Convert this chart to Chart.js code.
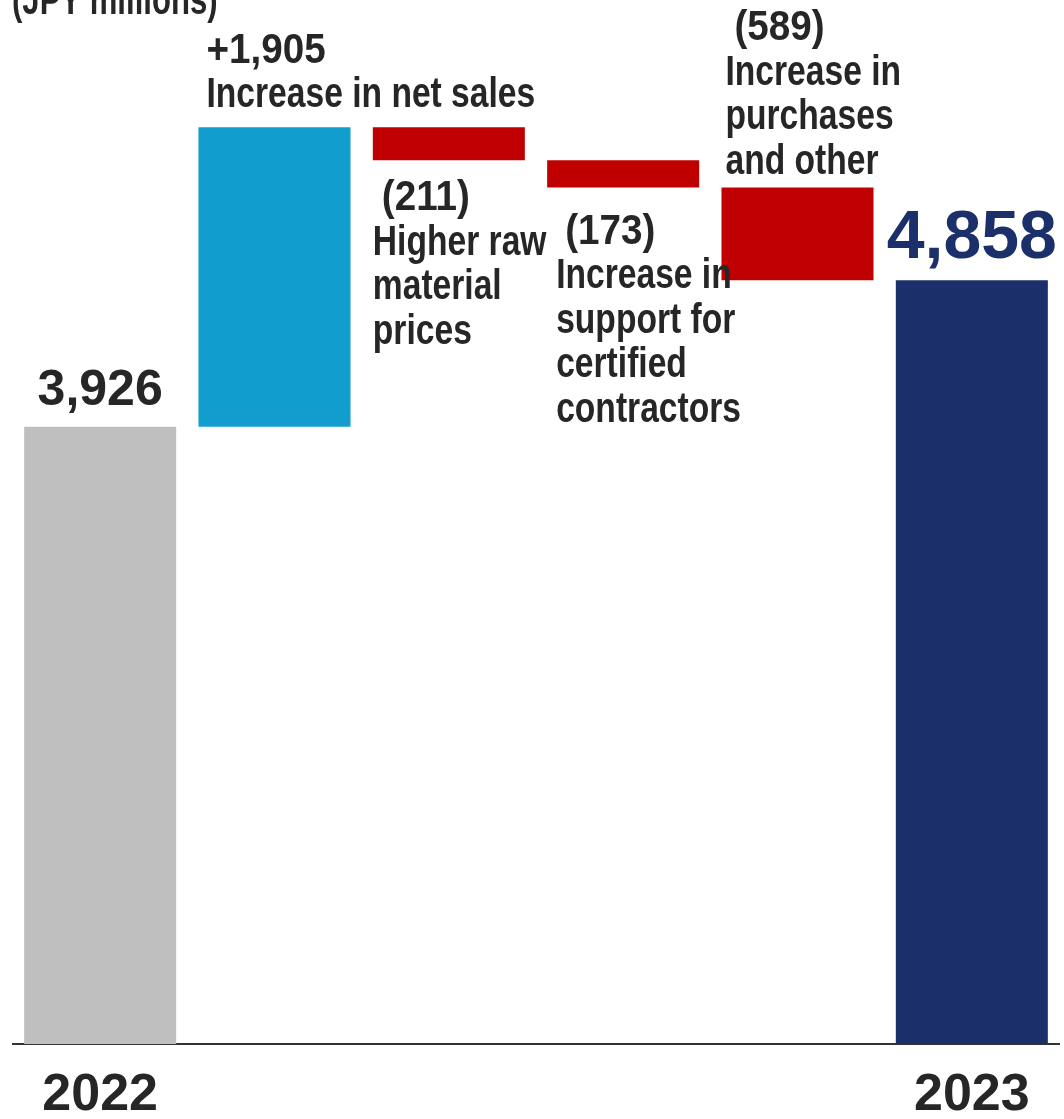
<!DOCTYPE html>
<html>
<head>
<meta charset="utf-8">
<title>Operating income bridge</title>
<script src="https://cdn.jsdelivr.net/npm/chart.js@4"></script>
<style>
  html, body { margin: 0; padding: 0; background: #fff; }
  #wrap { width: 1064px; height: 1119px; }
</style>
</head>
<body>
<div id="wrap"><canvas id="bridgeChart" width="1064" height="1119"></canvas></div>
<script>
// Bridge data (JPY millions)
const categories = ['2022', 'Increase in net sales', 'Higher raw material prices',
    'Increase in support for certified contractors', 'Increase in purchases and other', '2023'];
const tickLabels = ['2022', '', '', '', '', '2023'];
const values = [3926, 1905, -211, -173, -589, 4858];
const kinds = ['total', 'delta', 'delta', 'delta', 'delta', 'total'];
const valueLabels = ['3,926', '+1,905', '(211)', '(173)', '(589)', '4,858'];
const captions = [
    [],
    ['Increase in net sales'],
    ['Higher raw', 'material', 'prices'],
    ['Increase in', 'support for', 'certified', 'contractors'],
    ['Increase in', 'purchases', 'and other'],
    []
];
const barColors = ['#bfbfbf', '#119dcd', '#c00000', '#c00000', '#c00000', '#1b306a'];

const TEXT = '#262626';
const FONT = "'Liberation Sans', Arial, sans-serif";

// build floating [start, end] ranges from the running total
let running = 0;
const ranges = values.map((v, i) => {
    if (kinds[i] === 'total') {
        running = v;
        return [0, v];
    }
    const start = running;
    running += v;
    return [start, running];
});

// draw a line of text squeezed horizontally (condensed look)
function drawText(ctx, text, x, y, size, squeeze, color, align) {
    ctx.save();
    ctx.font = `bold ${size}px ${FONT}`;
    ctx.fillStyle = color;
    ctx.textBaseline = 'alphabetic';
    ctx.textAlign = align || 'left';
    ctx.translate(x, y);
    ctx.scale(squeeze, 1);
    ctx.fillText(text, 0, 0);
    ctx.restore();
}

const bridgeLabels = {
    id: 'bridgeLabels',
    afterDatasetsDraw(chart) {
        const ctx = chart.ctx;
        const bars = chart.getDatasetMeta(0).data;
        const lineH = 44.5;

        // unit note in the corner
        drawText(ctx, '(JPY millions)', 12, 14, 42, 0.74, TEXT);

        bars.forEach((bar, i) => {
            const top = Math.min(bar.y, bar.base);
            const bottom = Math.max(bar.y, bar.base);
            const left = bar.x - bar.width / 2;

            if (kinds[i] === 'total') {
                const last = i === bars.length - 1;
                drawText(ctx, valueLabels[i], bar.x, top - 22, last ? 68 : 50, 1,
                    last ? '#1b306a' : TEXT, 'center');
                return;
            }

            const lines = [valueLabels[i]].concat(captions[i]);
            let firstBaseline;
            if (values[i] > 0 || i === 4) {
                // text block sits above the bar
                firstBaseline = top - (i === 4 ? 14 : 20) - (lines.length - 1) * lineH;
            } else {
                // text block hangs below the bar
                firstBaseline = bottom + (i === 2 ? 50 : 56);
            }
            const indent = i === 1 ? 8 : (i === 3 ? 9 : (i === 4 ? 4 : 0));
            lines.forEach((line, k) => {
                const isNum = k === 0;
                const x = left + indent + (isNum && values[i] < 0 ? 9 : 0);
                drawText(ctx, line, x, firstBaseline + k * lineH, 42, isNum ? 0.92 : 0.8, TEXT);
            });
        });
    }
};

new Chart(document.getElementById('bridgeChart'), {
    type: 'bar',
    data: {
        labels: tickLabels,
        datasets: [{
            label: 'Operating income bridge',
            data: ranges,
            backgroundColor: barColors,
            borderWidth: 0,
            borderSkipped: false,
            barPercentage: 0.872,
            categoryPercentage: 1
        }]
    },
    options: {
        responsive: false,
        animation: false,
        events: [],
        layout: { padding: { left: 13, right: 5, top: 0, bottom: 0 } },
        plugins: {
            legend: { display: false },
            tooltip: { enabled: false },
            title: { display: false }
        },
        scales: {
            x: {
                grid: { display: false, drawTicks: false },
                border: { display: true, color: '#333333', width: 2 },
                ticks: {
                    color: TEXT,
                    padding: 26,
                    maxRotation: 0,
                    autoSkip: false,
                    font: { family: FONT, size: 52, weight: 'bold', lineHeight: 1 }
                },
                afterFit(scale) { scale.height = 75; }
            },
            y: {
                display: false,
                min: 0,
                max: 6640
            }
        }
    },
    plugins: [bridgeLabels]
});
</script>
</body>
</html>
